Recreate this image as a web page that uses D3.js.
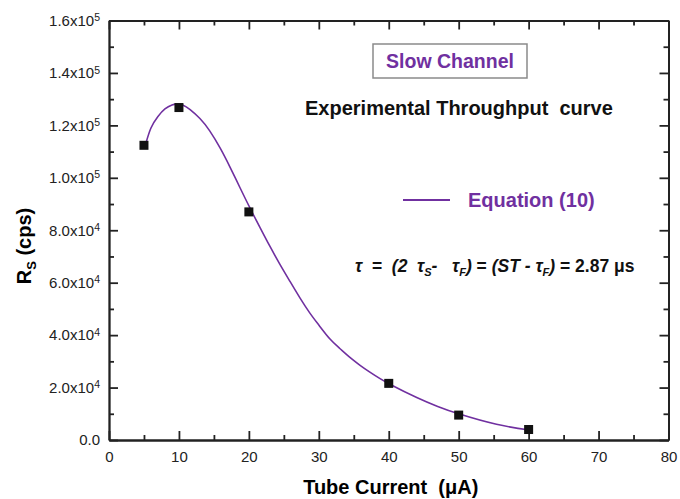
<!DOCTYPE html>
<html>
<head>
<meta charset="utf-8">
<script src="https://cdn.jsdelivr.net/npm/d3@7"></script>
<style>
  body { margin: 0; background: #fff; }
  svg { font-family: "Liberation Sans", Arial, sans-serif; }
  .axis path, .axis line { stroke: #222; }
  .axis text { fill: #222; }
</style>
</head>
<body>
<svg id="chart" width="680" height="499"></svg>
<script>
// measured points (tube current in uA, rate in cps)
const currents = [5, 10, 20, 40, 50, 60];
const rates = [112400, 126800, 87000, 21600, 9500, 4000];

// Equation (10) curve
const fitCurrent = [5.2, 6, 7, 8, 9, 9.7, 10.6, 11.6, 13, 14.4, 15.9, 17.3, 18.7, 20.1, 21.6, 23,
  24.4, 25.9, 27.3, 28.7, 30.1, 31.6, 33, 34.4, 35.9, 37.3, 38.7, 40.3, 44, 47, 50.1, 55.4, 60.1];
const fitRate = [112500, 119000, 123400, 126300, 127800, 128100, 127700, 126000, 122600, 117900, 111300, 104100, 96400, 88800, 81000, 73900,
  67200, 60400, 54200, 48500, 43500, 38500, 34900, 31600, 28500, 25900, 23500, 21100, 16200, 12800, 9900, 6000, 3800];

const xMajor = [0, 10, 20, 30, 40, 50, 60, 70, 80];
const xMinor = [5, 15, 25, 35, 45, 55, 65, 75];
const yMajor = [0, 20000, 40000, 60000, 80000, 100000, 120000, 140000, 160000];
const yMinor = [10000, 30000, 50000, 70000, 90000, 110000, 130000, 150000];

const purple = "#7030a0";
const svg = d3.select("#chart");

const mLeft = 109, mRight = 668.5, mTop = 20.5, mBottom = 440;
const x = d3.scaleLinear().domain([0, 80]).range([mLeft, mRight]);
const y = d3.scaleLinear().domain([0, 160000]).range([mBottom, mTop]);

// axes - ticks point inward on all four sides
function drawAxis(gen, tx, ty, vals, size, fmt, pad) {
  return svg.append("g")
    .attr("class", "axis")
    .attr("transform", `translate(${tx},${ty})`)
    .call(gen.tickValues(vals).tickSizeInner(-size).tickSizeOuter(0).tickPadding(pad).tickFormat(fmt));
}

const blank = () => "";
drawAxis(d3.axisBottom(x), 0, mBottom, xMinor, 5, blank, 0);
const xb = drawAxis(d3.axisBottom(x), 0, mBottom, xMajor, 9, d3.format("d"), 11);
drawAxis(d3.axisTop(x), 0, mTop, xMinor, 5, blank, 0);
drawAxis(d3.axisTop(x), 0, mTop, xMajor, 9, blank, 0);
drawAxis(d3.axisLeft(y), mLeft, 0, yMinor, 5, blank, 0);
const yl = drawAxis(d3.axisLeft(y), mLeft, 0, yMajor, 9, blank, 9);
drawAxis(d3.axisRight(y), mRight, 0, yMinor, 5, blank, 0);
drawAxis(d3.axisRight(y), mRight, 0, yMajor, 9, blank, 0);

svg.selectAll(".axis path, .axis line").attr("stroke-width", 1.8);
xb.selectAll("text").attr("font-size", 15);

// y tick labels like 1.2x10^5
yl.selectAll(".tick text").attr("font-size", 15).each(function(d) {
  const t = d3.select(this);
  if (d === 0) { t.text("0.0"); return; }
  const e = Math.floor(Math.log10(d));
  t.append("tspan").text((d / Math.pow(10, e)).toFixed(1) + "x10");
  t.append("tspan").attr("font-size", 10.5).attr("dy", "-0.45em").text(e);
});

// axis titles
svg.append("text")
  .attr("x", (mLeft + mRight) / 2 + 2).attr("y", 494)
  .attr("text-anchor", "middle").attr("font-size", 20).attr("font-weight", "bold")
  .style("white-space", "pre")
  .text("Tube Current  (\u03bcA)");

const yt = svg.append("text")
  .attr("transform", "translate(31,246) rotate(-90)")
  .attr("text-anchor", "middle").attr("font-size", 20).attr("font-weight", "bold")
  .style("white-space", "pre");
yt.append("tspan").text("R");
yt.append("tspan").attr("font-size", 13).attr("dy", 5).text("S");
yt.append("tspan").attr("dy", -5).text(" (cps)");

// fitted curve
const line = d3.line()
  .x((d, i) => x(fitCurrent[i]))
  .y(d => y(d))
  .curve(d3.curveNatural);

svg.append("path")
  .datum(fitRate)
  .attr("d", line)
  .attr("fill", "none")
  .attr("stroke", purple)
  .attr("stroke-width", 1.6);

// measured points
svg.selectAll("rect.pt")
  .data(currents)
  .join("rect")
  .attr("class", "pt")
  .attr("x", d => x(d) - 4.5)
  .attr("y", (d, i) => y(rates[i]) - 4.5)
  .attr("width", 9).attr("height", 9)
  .attr("fill", "#111");

// annotations
svg.append("rect")
  .attr("x", 373).attr("y", 44).attr("width", 154).attr("height", 34)
  .attr("fill", "none").attr("stroke", "#8a8a8a").attr("stroke-width", 1.5);
svg.append("text")
  .attr("x", 450).attr("y", 68).attr("text-anchor", "middle")
  .attr("font-size", 19.5).attr("font-weight", "bold").attr("fill", purple)
  .text("Slow Channel");

svg.append("text")
  .attr("x", 305).attr("y", 115)
  .attr("font-size", 20).attr("font-weight", "bold").attr("fill", "#111")
  .style("white-space", "pre")
  .text("Experimental Throughput  curve");

svg.append("line")
  .attr("x1", 403).attr("x2", 450).attr("y1", 200).attr("y2", 200)
  .attr("stroke", purple).attr("stroke-width", 2);
svg.append("text")
  .attr("x", 468).attr("y", 207)
  .attr("font-size", 20).attr("font-weight", "bold").attr("fill", purple)
  .text("Equation (10)");

// tau relation, with subscripts
const eq = svg.append("text")
  .attr("x", 355).attr("y", 272)
  .attr("font-size", 17.5).attr("font-weight", "bold").attr("fill", "#111")
  .style("white-space", "pre");
const parts = [
  ["\u03c4", "italic", 0], ["  =  ", "normal", 0], ["(2  \u03c4", "italic", 0], ["S", "italic", 1],
  ["-   \u03c4", "italic", 0], ["F", "italic", 1], [")", "italic", 0], [" = ", "normal", 0],
  ["(ST - \u03c4", "italic", 0], ["F", "italic", 1], [")", "italic", 0], [" = 2.87 \u03bcs", "normal", 0]
];
let shifted = false;
parts.forEach(([txt, style, sub]) => {
  const ts = eq.append("tspan").attr("font-style", style).text(txt);
  if (sub) { ts.attr("font-size", 11).attr("dy", 4); shifted = true; }
  else if (shifted) { ts.attr("dy", -4); shifted = false; }
});
</script>
</body>
</html>
